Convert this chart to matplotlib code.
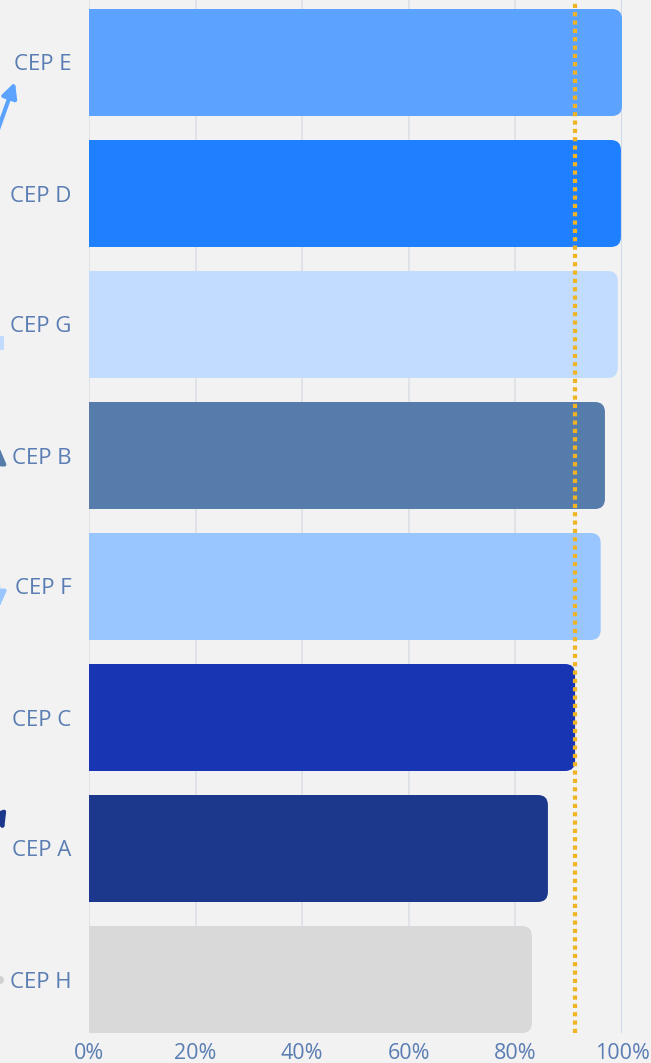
import matplotlib
matplotlib.use('Agg')
import matplotlib.pyplot as plt
from matplotlib.patches import FancyBboxPatch, Rectangle, Circle
from matplotlib.ticker import FuncFormatter

# --- Data (top to bottom) ---
labels = ['CEP E', 'CEP D', 'CEP G', 'CEP B', 'CEP F', 'CEP C', 'CEP A', 'CEP H']
values = [100.0, 99.8, 99.2, 96.8, 96.0, 91.2, 86.1, 83.1]
target = 91.2
xticks = [0, 20, 40, 60, 80, 100]

# --- Style ---
BAR_COLORS = ['#5ca3ff', '#1f80ff', '#c2dcff', '#567cab',
              '#99c6ff', '#1835b4', '#1b388c', '#d9d9d9']
BG = '#f2f2f2'
TEXT = '#5a7db3'
GRID = '#dcdfe5'

W, H = 651, 1063
fig = plt.figure(figsize=(W / 100, H / 100), dpi=100, facecolor=BG)
ax_left, ax_right, ax_bot, ax_top = 89, 622, 1033, 0
ax = fig.add_axes([ax_left / W, (H - ax_bot) / H,
                   (ax_right - ax_left) / W, (ax_bot - ax_top) / H])
ax.set_facecolor(BG)

n = len(labels)
step_px = 131.0
bar_h = 107.0 / step_px
ys = list(range(n - 1, -1, -1))
ax.set_xlim(0, 100)
ax.set_ylim(-bar_h / 2, (n - 1) + bar_h / 2 + 9 / step_px)

# pixels per data unit, so the rounded corners come out circular
px_x = (ax_right - ax_left) / 100.0
px_y = step_px
radius_px = 10
r_x = radius_px / px_x

for y, v, c in zip(ys, values, BAR_COLORS):
    box = FancyBboxPatch((0, y - bar_h / 2), v, bar_h,
                         boxstyle=f"round,pad=0,rounding_size={r_x}",
                         mutation_aspect=px_x / px_y,
                         facecolor=c, edgecolor='none', zorder=3)
    ax.add_patch(box)
    # square off the left corners
    ax.add_patch(Rectangle((0, y - bar_h / 2), r_x * 2, bar_h,
                           facecolor=c, edgecolor='none', zorder=3))

# grid
for x in xticks:
    col = '#c9d4e6' if x == 100 else GRID
    ax.axvline(x, color=col, lw=1.2, zorder=1)

# target line
ax.axvline(target, color='#f0b323', lw=3, linestyle=(0, (1, 1)), zorder=4)

ax.set_yticks(ys)
ax.set_yticklabels(labels)
ax.set_xticks(xticks)
ax.xaxis.set_major_formatter(FuncFormatter(lambda v, p: f"{int(v)}%"))
ax.tick_params(axis='x', length=0, colors=TEXT, labelsize=15.5, pad=7)
ax.tick_params(axis='y', length=0, colors=TEXT, labelsize=16, pad=12.5)
for lab in ax.get_xticklabels() + ax.get_yticklabels():
    lab.set_fontfamily('Open Sans')
for s in ax.spines.values():
    s.set_visible(False)


# --- clipped trend icons at the left edge (pixel coords, top-origin) ---
def fp(x, y):
    return (x, H - y)


def arrow(x0, y0, x1, y1, color):
    return ax.annotate('', xy=fp(x1, y1), xytext=fp(x0, y0),
                       xycoords='figure pixels', textcoords='figure pixels',
                       annotation_clip=False,
                       arrowprops=dict(arrowstyle='-|>,head_length=0.9,head_width=0.45',
                                       color=color, lw=3, shrinkA=0, shrinkB=0))


arrow(-4, 135, 15, 82, '#5ca3ff')     # CEP E
arrow(-22, 270, -3, 208, '#1f80ff')   # CEP D
fig.patches.append(Rectangle(fp(-6, 350), 10, 14, facecolor='#c2dcff',
                             edgecolor='none', transform=None, figure=fig))  # CEP G
arrow(-4, 500, -1, 447, '#567cab')    # CEP B
arrow(-3, 560, -1, 608, '#99c6ff')    # CEP F
arrow(-14, 780, 4, 830, '#1b388c')    # CEP A
fig.patches.append(Circle(fp(0, 980), 4, facecolor='#d0d0d0', edgecolor='none',
                          transform=None, figure=fig))  # CEP H

fig.savefig('out.png', dpi=100, facecolor=BG)
